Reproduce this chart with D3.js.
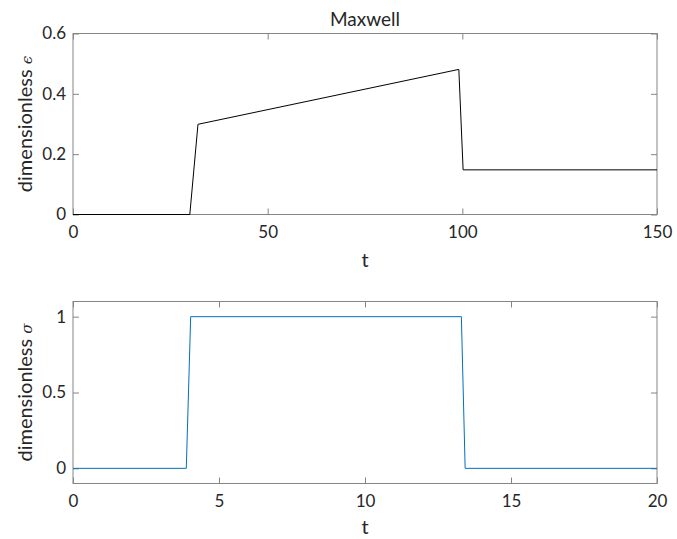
<!DOCTYPE html>
<html>
<head>
<meta charset="utf-8">
<script src="https://cdn.jsdelivr.net/npm/d3@7"></script>
<style>
  body { margin: 0; background: #fff; }
  svg text { font-family: Lato, "Open Sans", sans-serif; font-weight: 400; fill: #262626; }
</style>
</head>
<body>
<div id="chart"></div>
<script>
// strain response (top) and applied stress (bottom)
const epsT = [0, 30, 32.1, 99.1, 100.2, 150];
const epsV = [0, 0, 0.299, 0.481, 0.148, 0.148];
const sigT = [0, 3.88, 4.03, 13.3, 13.43, 20];
const sigV = [0, 0, 1, 1, 0, 0];

const epsXTicks = [0, 50, 100, 150];
const epsYTicks = [0, 0.2, 0.4, 0.6];
const sigXTicks = [0, 5, 10, 15, 20];
const sigYTicks = [0, 0.5, 1];

const width = 677, height = 539;
const axisColor = "#858585";
const tickLen = 6;

const svg = d3.select("#chart").append("svg")
  .attr("width", width)
  .attr("height", height);

function drawPanel(opts) {
  const { left, right, top, bottom } = opts;
  const x = d3.scaleLinear().domain(opts.xDomain).range([left, right]);
  const y = d3.scaleLinear().domain(opts.yDomain).range([bottom, top]);
  const g = svg.append("g");

  const fmt = d => String(d);

  // bottom + top axes, ticks pointing inward
  g.append("g")
    .attr("transform", `translate(0,${bottom})`)
    .call(d3.axisBottom(x).tickValues(opts.xTicks).tickFormat(fmt)
      .tickSize(-tickLen).tickSizeOuter(0).tickPadding(11))
    .call(a => a.select(".domain").remove())
    .call(a => a.selectAll("line").attr("stroke", axisColor))
    .call(a => a.selectAll("text").attr("font-size", 17).attr("fill", "#262626"));

  g.append("g")
    .attr("transform", `translate(0,${top})`)
    .call(d3.axisTop(x).tickValues(opts.xTicks).tickFormat("")
      .tickSize(-tickLen).tickSizeOuter(0))
    .call(a => a.select(".domain").remove())
    .call(a => a.selectAll("line").attr("stroke", axisColor));

  // left + right axes
  g.append("g")
    .attr("transform", `translate(${left},0)`)
    .call(d3.axisLeft(y).tickValues(opts.yTicks).tickFormat(fmt)
      .tickSize(-tickLen).tickSizeOuter(0).tickPadding(7))
    .call(a => a.select(".domain").remove())
    .call(a => a.selectAll("line").attr("stroke", axisColor))
    .call(a => a.selectAll("text").attr("font-size", 17).attr("fill", "#262626"));

  g.append("g")
    .attr("transform", `translate(${right},0)`)
    .call(d3.axisRight(y).tickValues(opts.yTicks).tickFormat("")
      .tickSize(-tickLen).tickSizeOuter(0))
    .call(a => a.select(".domain").remove())
    .call(a => a.selectAll("line").attr("stroke", axisColor));

  // box
  g.append("rect")
    .attr("x", left).attr("y", top)
    .attr("width", right - left).attr("height", bottom - top)
    .attr("fill", "none")
    .attr("stroke", axisColor);

  // data line
  const pts = opts.t.map((t, i) => [t, opts.v[i]]);
  g.append("path")
    .datum(pts)
    .attr("fill", "none")
    .attr("stroke", opts.color)
    .attr("stroke-width", 1)
    .attr("d", d3.line().x(d => x(d[0])).y(d => y(d[1])));

  // labels
  g.append("text")
    .attr("x", (left + right) / 2)
    .attr("y", opts.xLabelY)
    .attr("text-anchor", "middle")
    .attr("font-size", 20)
    .text("t");

  const yl = g.append("text")
    .attr("transform", `translate(32,${(top + bottom) / 2}) rotate(-90)`)
    .attr("text-anchor", "middle")
    .attr("font-size", 20);
  yl.append("tspan").text("dimensionless ");
  yl.append("tspan").attr("font-style", "italic").attr("font-family", "DejaVu Serif")
    .attr("font-weight", 400).attr("font-size", 15).text(opts.sym);

  if (opts.title) {
    g.append("text")
      .attr("x", (left + right) / 2)
      .attr("y", top - 8)
      .attr("text-anchor", "middle")
      .attr("font-size", 19)
      .attr("fill", "#000")
      .text(opts.title);
  }
}

drawPanel({
  left: 73, right: 657, top: 33.5, bottom: 214.5,
  xDomain: [0, 150], yDomain: [0, 0.6],
  xTicks: epsXTicks, yTicks: epsYTicks,
  t: epsT, v: epsV, color: "#000000",
  sym: "\u03f5", title: "Maxwell", xLabelY: 267
});

drawPanel({
  left: 73, right: 657, top: 301.5, bottom: 483.5,
  xDomain: [0, 20], yDomain: [-0.1, 1.1],
  xTicks: sigXTicks, yTicks: sigYTicks,
  t: sigT, v: sigV, color: "#0072BD",
  sym: "\u03c3", xLabelY: 534
});
</script>
</body>
</html>
